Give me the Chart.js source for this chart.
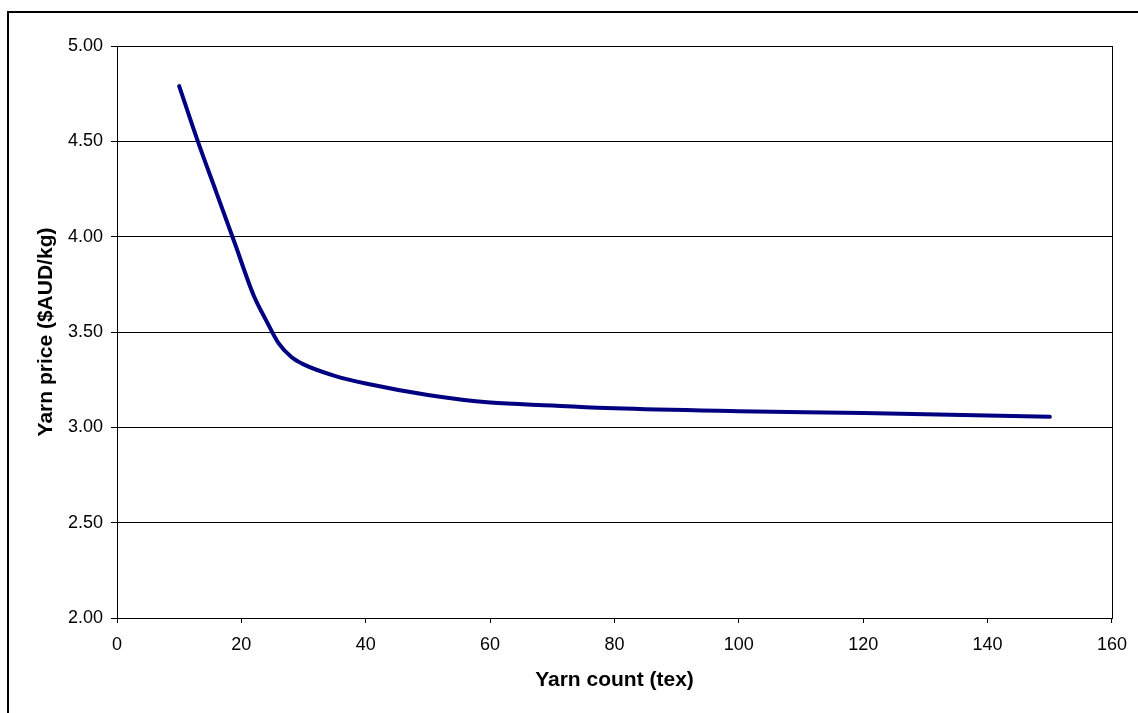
<!DOCTYPE html>
<html>
<head>
<meta charset="utf-8">
<script src="https://cdn.jsdelivr.net/npm/chart.js@4"></script>
<style>
  html, body { margin: 0; padding: 0; background: #fff; overflow: hidden; }
  #frame { position: absolute; left: 7px; top: 11px; width: 1300px; height: 900px; border: 2px solid #000; }
  #wrap { position: absolute; left: 0; top: 0; width: 1138px; height: 713px; }
</style>
</head>
<body>
<div id="frame"></div>
<div id="wrap"><canvas id="chart"></canvas></div>
<script>
  // Yarn count (tex) and yarn price ($AUD/kg)
  const yarnCount = [10, 13, 16, 19, 22, 24, 26, 28, 30, 35, 40, 50, 60, 70, 80, 100, 120, 150];
  const yarnPrice = [4.79, 4.50, 4.23, 3.96, 3.69, 3.56, 3.44, 3.37, 3.33, 3.27, 3.23, 3.17, 3.13, 3.115, 3.10, 3.085, 3.075, 3.055];

  const X_MIN = 0, X_MAX = 160, X_STEP = 20;
  const Y_MIN = 2, Y_MAX = 5, Y_STEP = 0.5;

  const FONT = "'Liberation Sans', Arial, sans-serif";

  const plotBorder = {
    id: "plotBorder",
    afterDraw(chart) {
      const { ctx, chartArea: a } = chart;
      ctx.save();
      ctx.strokeStyle = "#000";
      ctx.lineWidth = 1;
      ctx.strokeRect(Math.round(a.left) + 0.5, Math.round(a.top) + 0.5,
        Math.round(a.right - a.left), Math.round(a.bottom - a.top));
      ctx.restore();
    }
  };

  const points = yarnCount.map((x, i) => ({ x, y: yarnPrice[i] }));

  new Chart(document.getElementById("chart").getContext("2d"), {
    type: "line",
    data: {
      datasets: [{
        data: points,
        borderColor: "#000080",
        borderWidth: 4,
        borderCapStyle: "round",
        borderJoinStyle: "round",
        pointRadius: 0,
        fill: false,
        cubicInterpolationMode: "monotone"
      }]
    },
    options: {
      responsive: true,
      maintainAspectRatio: false,
      animation: false,
      layout: { padding: { left: 0, top: 46, right: 25, bottom: 0 } },
      plugins: { legend: { display: false }, tooltip: { enabled: false } },
      scales: {
        x: {
          type: "linear",
          min: X_MIN,
          max: X_MAX,
          afterFit: (scale) => { scale.height = 95; },
          ticks: {
            stepSize: X_STEP,
            color: "#000",
            font: { family: FONT, size: 18 },
            padding: 11,
            maxRotation: 0
          },
          grid: { drawOnChartArea: false, drawTicks: true, tickLength: 5, color: "#000" },
          border: { display: true, color: "#000" },
          title: {
            display: true,
            text: "Yarn count (tex)",
            color: "#000",
            font: { family: FONT, size: 21, weight: "bold" },
            padding: { top: 0, bottom: 20 }
          }
        },
        y: {
          min: Y_MIN,
          max: Y_MAX,
          afterFit: (scale) => { scale.width = 117; },
          ticks: {
            stepSize: Y_STEP,
            color: "#000",
            font: { family: FONT, size: 18 },
            padding: 8,
            callback: (v) => Number(v).toFixed(2)
          },
          grid: { color: "#000", tickLength: 6 },
          border: { display: true, color: "#000" },
          title: {
            display: true,
            text: "Yarn price ($AUD/kg)",
            color: "#000",
            font: { family: FONT, size: 21, weight: "bold" },
            padding: { top: 34, bottom: 0 }
          }
        }
      }
    },
    plugins: [plotBorder]
  });
</script>
</body>
</html>
